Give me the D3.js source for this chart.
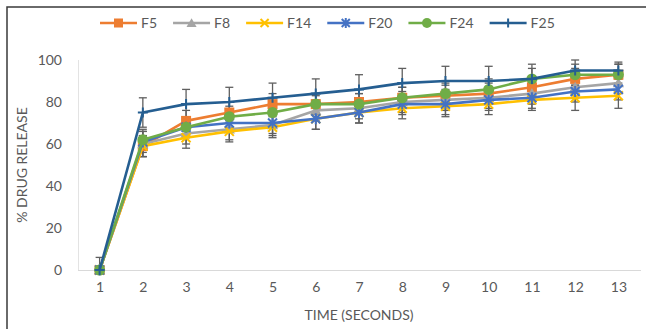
<!DOCTYPE html>
<html>
<head>
<meta charset="utf-8">
<script src="https://cdn.jsdelivr.net/npm/d3@7"></script>
<style>
  body { margin: 0; background: #fff; }
  text { font-family: Lato, "Liberation Sans", sans-serif; }
</style>
</head>
<body>
<script>
// data
const times = [1, 2, 3, 4, 5, 6, 7, 8, 9, 10, 11, 12, 13];
const F5 = [0, 59, 71, 75, 79, 79, 80, 82, 83, 84, 87, 91, 93];
const F8 = [0, 60, 65, 67, 69, 76, 77, 80, 81, 82, 84, 87, 89];
const F14 = [0, 59, 63, 66, 68, 72, 75, 77, 78, 79, 81, 82, 83];
const F20 = [0, 61, 68, 70, 70, 72, 75, 79, 79, 81, 82, 85, 86];
const F24 = [0, 62, 68, 73, 75, 79, 79, 82, 84, 86, 91, 93, 93];
const F25 = [0, 75, 79, 80, 82, 84, 86, 89, 90, 90, 91, 95, 95];
// standard deviations (error bars)
const F5err = [0, 5, 5, 5, 5, 4, 4, 5, 5, 5, 5, 5, 5];
const F8err = [0, 6, 5, 5, 5, 5, 5, 5, 5, 5, 5, 5, 5];
const F14err = [0, 5, 5, 5, 5, 5, 5, 5, 5, 5, 5, 6, 6];
const F20err = [0, 5, 4, 4, 5, 5, 5, 5, 5, 5, 5, 5, 5];
const F24err = [6, 5, 5, 5, 5, 5, 5, 5, 5, 5, 5, 5, 5];
const F25err = [0, 7, 7, 7, 7, 7, 7, 7, 7, 7, 7, 5, 4];
const yTicks = [0, 20, 40, 60, 80, 100];

const width = 646, height = 329;
const series = [
  { name: "F5", values: F5, err: F5err, color: "#ED7D31", mark: "square" },
  { name: "F8", values: F8, err: F8err, color: "#A5A5A5", mark: "triangle" },
  { name: "F14", values: F14, err: F14err, color: "#FFC000", mark: "x" },
  { name: "F20", values: F20, err: F20err, color: "#4472C4", mark: "star" },
  { name: "F24", values: F24, err: F24err, color: "#70AD47", mark: "circle" },
  { name: "F25", values: F25, err: F25err, color: "#255E91", mark: "plus" }
];

const svg = d3.select("body").append("svg")
  .attr("width", width)
  .attr("height", height);

// outer frame
svg.append("path")
  .attr("d", `M7,${height}V7H${width}`)
  .attr("fill", "none")
  .attr("stroke", "#3a3a3a")
  .attr("stroke-width", 1.5);

const x = d3.scalePoint().domain(times).range([78, 640]).padding(0.5);
const y = d3.scaleLinear().domain([0, 100]).range([270, 60]);

// plot area left edge + baseline
svg.append("line")
  .attr("x1", 78.5).attr("x2", 78.5)
  .attr("y1", y(100)).attr("y2", y(0))
  .attr("stroke", "#e3e3e3");
svg.append("line")
  .attr("x1", 78).attr("x2", 641)
  .attr("y1", y(0) + 0.5).attr("y2", y(0) + 0.5)
  .attr("stroke", "#d9d9d9")
  .attr("stroke-width", 1.2);

// axes (labels only)
const yAxis = svg.append("g")
  .attr("transform", "translate(66,0)")
  .call(d3.axisLeft(y).tickValues(yTicks).tickSize(0).tickPadding(4));
yAxis.select(".domain").remove();
yAxis.selectAll("text")
  .attr("fill", "#595959")
  .style("font-size", "14px");

const xAxis = svg.append("g")
  .attr("transform", `translate(0,${y(0)})`)
  .call(d3.axisBottom(x).tickSize(0).tickPadding(12));
xAxis.select(".domain").remove();
xAxis.selectAll("text")
  .attr("fill", "#595959")
  .style("font-size", "14px");

// axis titles
svg.append("text")
  .attr("transform", `translate(27,${(y(0) + y(100)) / 2}) rotate(-90)`)
  .attr("text-anchor", "middle")
  .attr("fill", "#595959")
  .style("font-size", "14px")
  .text("% DRUG RELEASE");

svg.append("text")
  .attr("x", 359)
  .attr("y", 320)
  .attr("text-anchor", "middle")
  .attr("fill", "#595959")
  .style("font-size", "14px")
  .text("TIME (SECONDS)");

// error bars
series.forEach(s => {
  const g = svg.append("g").attr("stroke", "#5f5f5f").attr("stroke-width", 1.3);
  times.forEach((t, i) => {
    const cx = x(t);
    const top = y(s.values[i] + s.err[i]);
    const bot = y(Math.max(0, s.values[i] - s.err[i]));
    if (s.err[i] === 0) return;
    g.append("line").attr("x1", cx).attr("x2", cx).attr("y1", top).attr("y2", bot);
    g.append("line").attr("x1", cx - 4).attr("x2", cx + 4).attr("y1", top).attr("y2", top);
    g.append("line").attr("x1", cx - 4).attr("x2", cx + 4).attr("y1", bot).attr("y2", bot);
  });
});

function drawMarker(g, type, color, cx, cy, scale) {
  const k = scale || 1;
  if (type === "square") {
    g.append("rect")
      .attr("x", cx - 5 * k).attr("y", cy - 5 * k)
      .attr("width", 10 * k).attr("height", 10 * k)
      .attr("fill", color);
  } else if (type === "triangle") {
    g.append("path")
      .attr("d", d3.symbol().type(d3.symbolTriangle).size(55 * k * k)())
      .attr("transform", `translate(${cx},${cy + 1})`)
      .attr("fill", color);
  } else if (type === "circle") {
    g.append("circle")
      .attr("cx", cx).attr("cy", cy).attr("r", 5.5 * k)
      .attr("fill", color);
  } else if (type === "x") {
    const r = 4.5 * k;
    g.append("path")
      .attr("d", `M${cx - r},${cy - r}L${cx + r},${cy + r}M${cx - r},${cy + r}L${cx + r},${cy - r}`)
      .attr("stroke", color).attr("stroke-width", 2).attr("fill", "none");
  } else if (type === "star") {
    const r = 4.5 * k;
    g.append("path")
      .attr("d", `M${cx - r},${cy - r}L${cx + r},${cy + r}M${cx - r},${cy + r}L${cx + r},${cy - r}M${cx},${cy - r - 1}V${cy + r + 1}`)
      .attr("stroke", color).attr("stroke-width", 2).attr("fill", "none");
  } else if (type === "plus") {
    const r = 5 * k;
    g.append("path")
      .attr("d", `M${cx - r},${cy}H${cx + r}M${cx},${cy - r}V${cy + r}`)
      .attr("stroke", color).attr("stroke-width", 2).attr("fill", "none");
  }
}

// lines + markers
const line = d3.line().x((d, i) => x(times[i])).y(d => y(d));
series.forEach(s => {
  const g = svg.append("g");
  g.append("path")
    .datum(s.values)
    .attr("d", line)
    .attr("fill", "none")
    .attr("stroke", s.color)
    .attr("stroke-width", 2.6)
    .attr("stroke-linejoin", "round");
  s.values.forEach((v, i) => drawMarker(g, s.mark, s.color, x(times[i]), y(v)));
});

// legend
const legend = svg.append("g").attr("transform", "translate(0,23)");
let lx = 100;
series.forEach(s => {
  const item = legend.append("g");
  item.append("line")
    .attr("x1", lx).attr("x2", lx + 37)
    .attr("stroke", s.color).attr("stroke-width", 2.6);
  drawMarker(item, s.mark, s.color, lx + 18.5, 0, 0.9);
  const t = item.append("text")
    .attr("x", lx + 41)
    .attr("y", 5)
    .attr("fill", "#595959")
    .style("font-size", "14px")
    .text(s.name);
  lx = lx + 41 + t.node().getComputedTextLength() + 16;
});
</script>
</body>
</html>
